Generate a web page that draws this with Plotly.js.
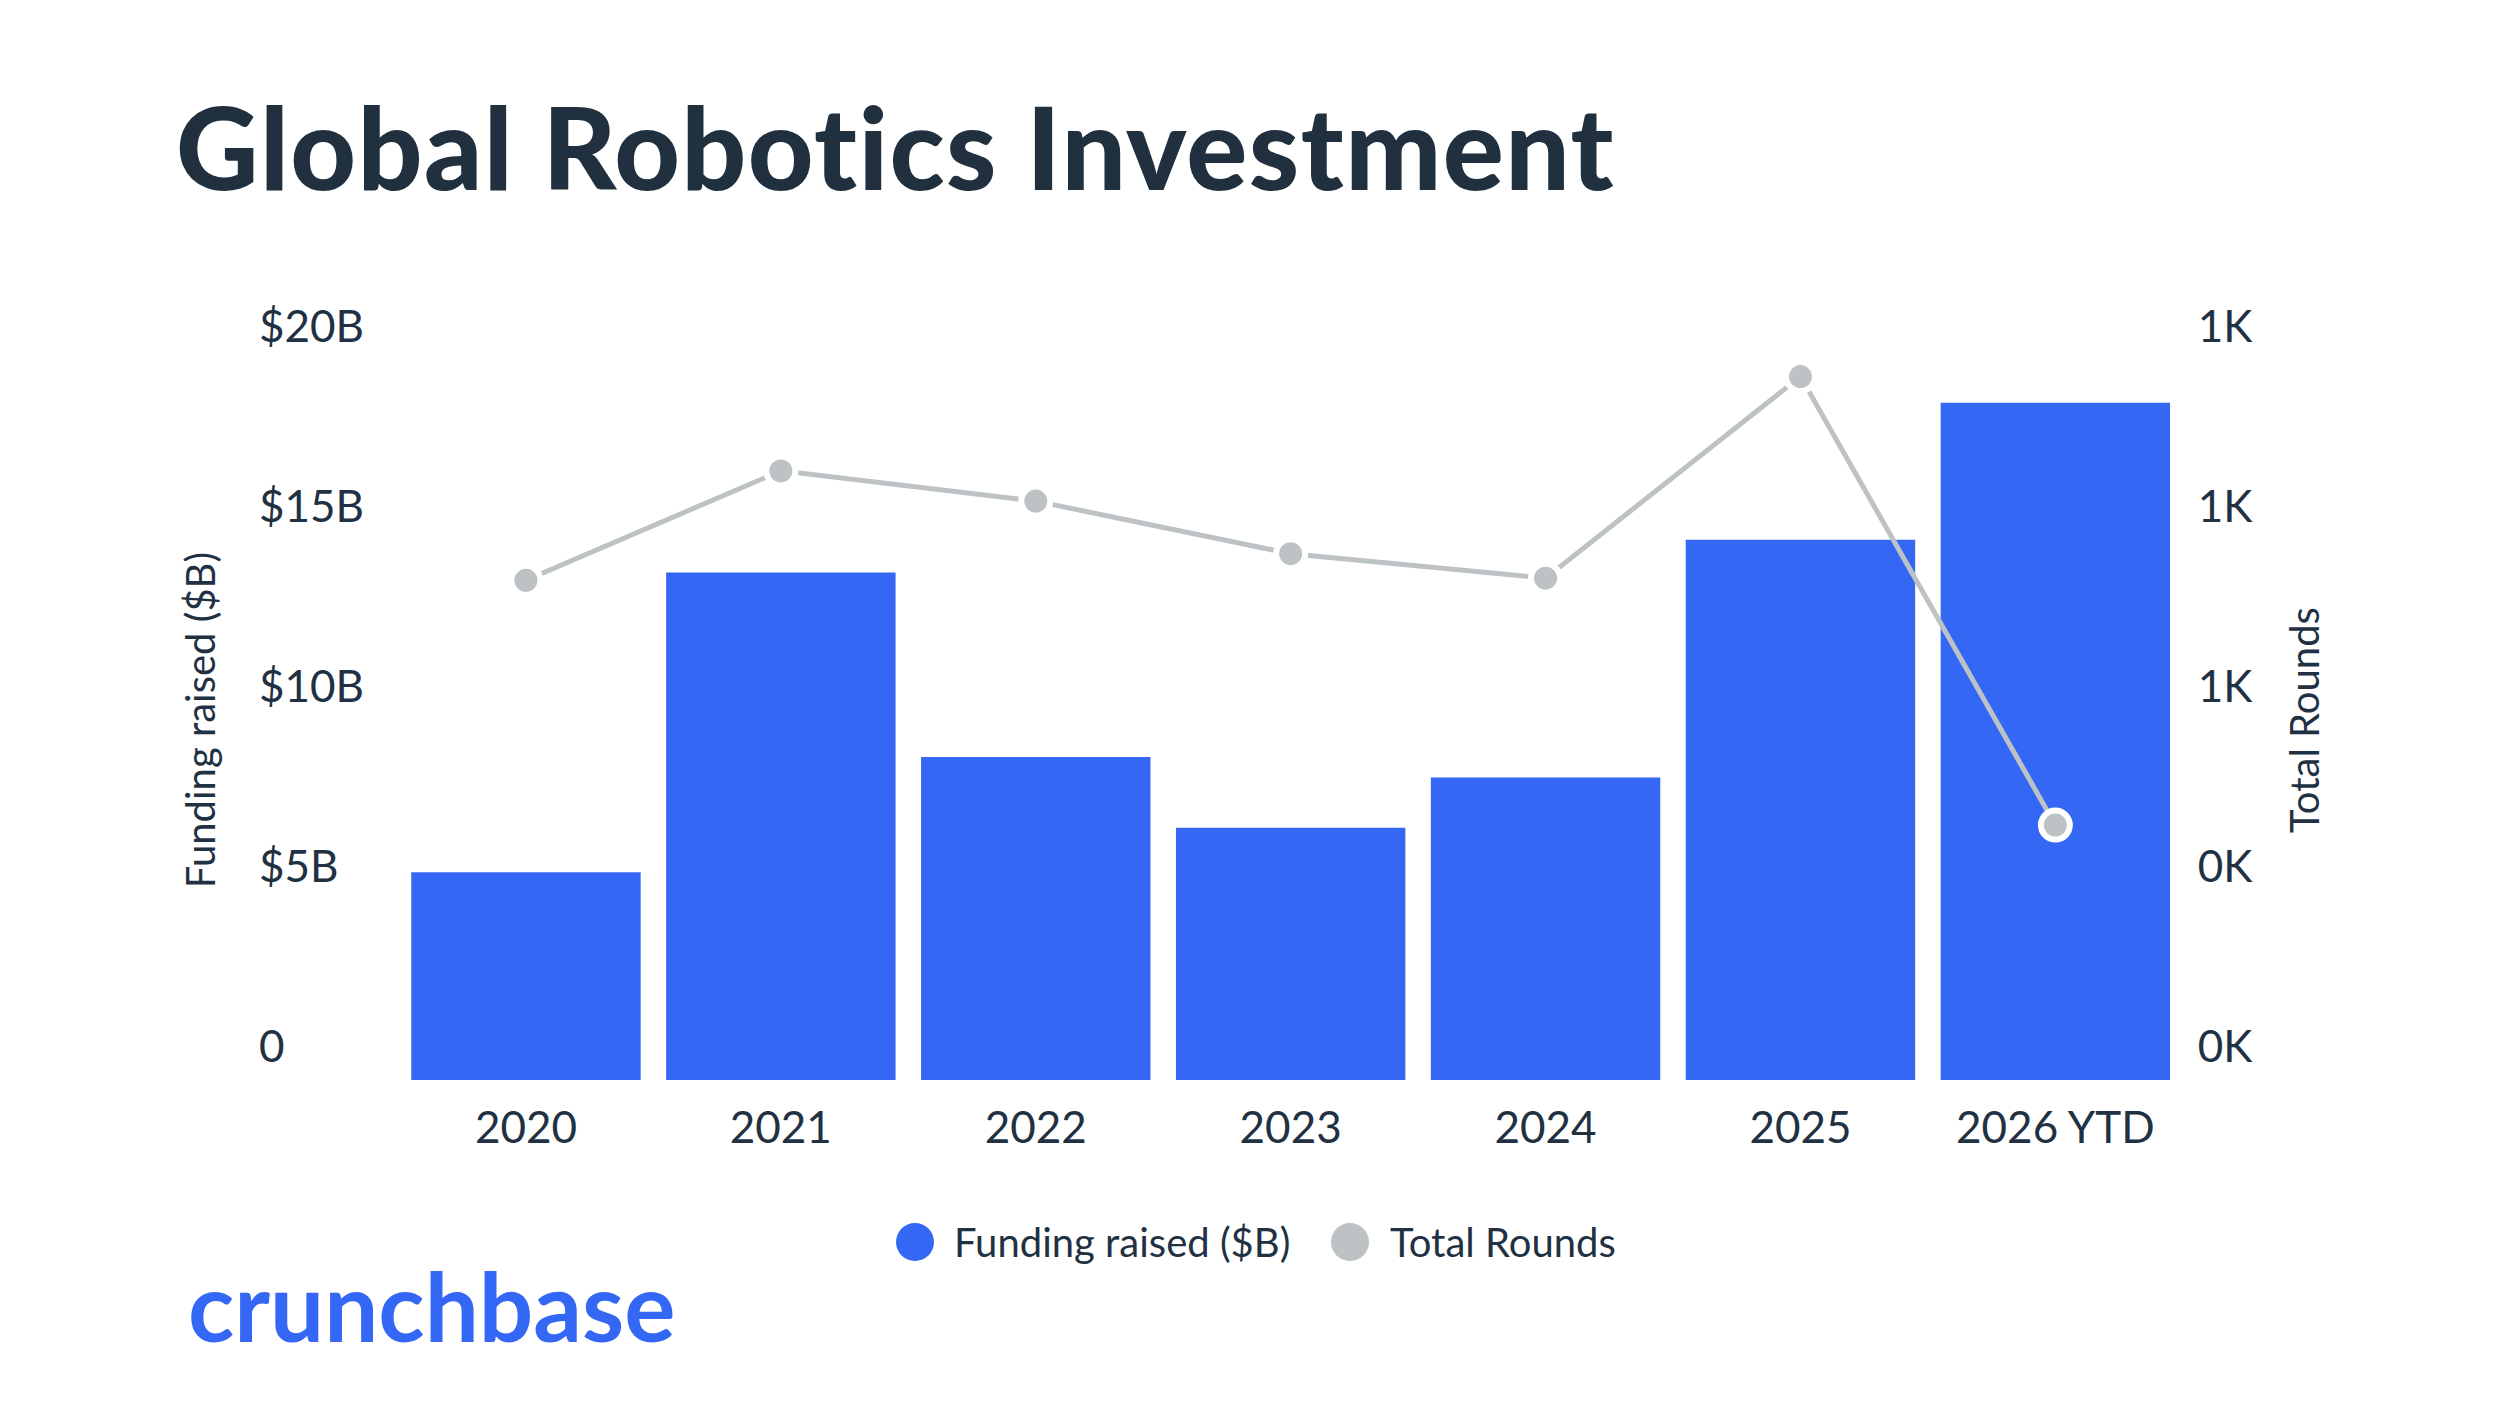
<!DOCTYPE html>
<html>
<head>
<meta charset="utf-8">
<script src="https://cdn.plot.ly/plotly-3.0.1.min.js"></script>
<style>
  html, body { margin: 0; padding: 0; background: #fff; }
  #chart { width: 2500px; height: 1406px; }
  /* the original headline face runs a little wider than Lato */
  #chart .gtitle { letter-spacing: 1.4px; }
</style>
</head>
<body>
<div id="chart"></div>
<script>
// values
const years = ['2020', '2021', '2022', '2023', '2024', '2025', '2026 YTD'];
const funding = [5.77, 14.1, 8.97, 7.01, 8.4, 15.01, 18.81];   // $B
const rounds = [694, 846, 804, 731, 697, 977, 354];           // count
const fundingTicks = [0, 5, 10, 15, 20];
const fundingTickText = ['0', '$5B', '$10B', '$15B', '$20B'];
const roundTicks = [0, 250, 500, 750, 1000];
const roundTickText = ['0K', '0K', '1K', '1K', '1K'];
const seriesNames = ['Funding raised ($B)', 'Total Rounds'];

const navy = '#1f3142';
const blue = '#3367f4';
const grey = '#bdc2c5';
const font = 'Lato, "Noto Sans", sans-serif';

const bars = {
    type: 'bar',
    x: years,
    y: funding,
    name: seriesNames[0],
    marker: { color: blue },
    showlegend: false,
};

const line = {
    type: 'scatter',
    mode: 'lines+markers',
    x: years,
    y: rounds,
    yaxis: 'y2',
    name: seriesNames[1],
    line: { color: grey, width: 5 },
    marker: { color: grey, size: 29, line: { color: '#ffffff', width: 6 } },
    showlegend: false,
};

// legend drawn by hand: circle + label
const W = 2500, H = 1406;
function px(x) { return x / W; }
function py(y) { return 1 - y / H; }
const legendY = 1242;
const legendItems = [
    { cx: 915, label: seriesNames[0], color: blue, tx: 952 },
    { cx: 1350, label: seriesNames[1], color: grey, tx: 1388 },
];

const shapes = legendItems.map(it => ({
    type: 'circle', xref: 'paper', yref: 'paper',
    x0: px(it.cx - 19), x1: px(it.cx + 19),
    y0: py(legendY + 19), y1: py(legendY - 19),
    fillcolor: it.color, line: { width: 0 },
}));

const annotations = legendItems.map(it => ({
    xref: 'paper', yref: 'paper', x: px(it.tx), y: py(legendY),
    xanchor: 'left', yanchor: 'middle', showarrow: false,
    text: it.label, font: { family: font, size: 40, color: navy },
}));

annotations.push({
    xref: 'paper', yref: 'paper', x: px(186), y: py(1304),
    xanchor: 'left', yanchor: 'middle', showarrow: false,
    text: 'crunchbase',
    font: { family: font, size: 96, color: blue, weight: 700 },
});

const layout = {
    width: W,
    height: H,
    margin: { l: 0, r: 0, t: 0, b: 0 },
    paper_bgcolor: '#ffffff',
    plot_bgcolor: '#ffffff',
    font: { family: font, color: navy },
    showlegend: false,
    bargap: 0.1,
    title: {
        text: 'Global Robotics Investment',
        font: { family: font, size: 114, color: '#20303f', weight: 900 },
        xref: 'paper', yref: 'paper',
        x: px(176), xanchor: 'left',
        y: py(150), yanchor: 'middle',
    },
    xaxis: {
        type: 'category',
        domain: [px(398.5), px(2182.8)],
        range: [-0.5, 6.5],
        showgrid: false, zeroline: false, showline: false, ticks: '',
        tickfont: { size: 44, color: navy },
        ticklabelstandoff: 18,
        automargin: false,
    },
    yaxis: {
        domain: [py(1080), py(360)],
        range: [0, 20],
        tickvals: fundingTicks,
        ticktext: fundingTickText,
        anchor: 'free',
        position: px(255),
        ticklabelposition: 'inside',
        ticklabeloverflow: 'allow',
        ticklabelshift: -33,
        showgrid: false, zeroline: false, showline: false, ticks: '',
        tickfont: { size: 44, color: navy },
        title: { text: seriesNames[0], font: { size: 40, color: navy }, standoff: 30 },
        automargin: false,
    },
    yaxis2: {
        overlaying: 'y',
        side: 'right',
        anchor: 'x',
        range: [0, 1000],
        tickvals: roundTicks,
        ticktext: roundTickText,
        ticklabelshift: -33,
        ticklabelstandoff: 14,
        showgrid: false, zeroline: false, showline: false, ticks: '',
        tickfont: { size: 44, color: navy },
        title: { text: seriesNames[1], font: { size: 40, color: navy }, standoff: 38 },
        automargin: false,
    },
    shapes: shapes,
    annotations: annotations,
};

Plotly.newPlot('chart', [bars, line], layout, { displayModeBar: false, responsive: false });
</script>
</body>
</html>
